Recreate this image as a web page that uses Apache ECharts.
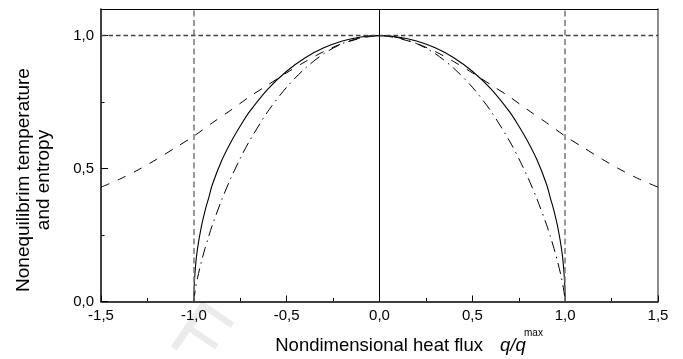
<!DOCTYPE html>
<html><head><meta charset="utf-8">
<script src="https://cdn.jsdelivr.net/npm/echarts@6/dist/echarts.min.js"></script>
<style>html,body{margin:0;padding:0;background:#fff}#c{width:683px;height:359px}</style>
</head><body><div id="c"></div>
<script>
// Dashed curve
const xDashed = [-1.5,-1.4,-1.3,-1.2,-1.1,-1.0,-0.9,-0.8,-0.7,-0.6,-0.5,-0.4,-0.3,-0.2,-0.1,0,
                 0.1,0.2,0.3,0.4,0.5,0.6,0.7,0.8,0.9,1.0,1.1,1.2,1.3,1.4,1.5];
const yDashed = [0.43,0.46,0.495,0.535,0.578,0.622,0.672,0.72,0.77,0.815,0.86,0.902,0.94,0.97,0.99,1.0,
                 0.99,0.97,0.94,0.902,0.86,0.815,0.77,0.72,0.672,0.622,0.578,0.535,0.495,0.46,0.43];
// Solid and dash-dot curves
const xSemi = [-1.0,-0.998,-0.99,-0.98,-0.96,-0.94,-0.92,-0.9,-0.85,-0.8,-0.75,-0.7,-0.6,-0.5,-0.4,-0.3,-0.2,-0.1,0,
               0.1,0.2,0.3,0.4,0.5,0.6,0.7,0.75,0.8,0.85,0.9,0.92,0.94,0.96,0.98,0.99,0.998,1.0];
const ySolid = [0,0.06,0.14,0.2,0.28,0.34,0.39,0.44,0.53,0.6,0.66,0.714,0.8,0.866,0.917,0.954,0.98,0.995,1.0,
                0.995,0.98,0.954,0.917,0.866,0.8,0.714,0.66,0.6,0.53,0.44,0.39,0.34,0.28,0.2,0.14,0.06,0];
const yDashDot = [0,0.016,0.053,0.089,0.148,0.199,0.245,0.288,0.382,0.465,0.538,0.604,0.716,0.806,0.877,0.932,0.97,0.992,1.0,
                  0.992,0.97,0.932,0.877,0.806,0.716,0.604,0.538,0.465,0.382,0.288,0.245,0.199,0.148,0.089,0.053,0.016,0];
const xTickValues = [-1.5,-1.0,-0.5,0,0.5,1.0,1.5];
const xTickLabels = ['-1,5','-1,0','-0,5','0,0','0,5','1,0','1,5'];
const yTickValues = [0,0.5,1.0];
const yTickLabels = ['0,0','0,5','1,0'];

const FONT = 'Liberation Sans, Arial, sans-serif';
function pick(vals, labels){
  return function(v){
    for (let i=0;i<vals.length;i++) if (Math.abs(v-vals[i])<1e-6) return labels[i];
    return '';
  };
}
const zip = (xs, ys) => xs.map((x,i)=>[x, ys[i]]);

const chart = echarts.init(document.getElementById('c'), null, {renderer:'canvas'});
chart.setOption({
  animation:false,
  backgroundColor:'#fff',
  grid:{left:101, right:25, top:9, bottom:57.5, show:false},
  xAxis:[{
    type:'value', min:-1.5, max:1.5, interval:0.5,
    axisLine:{show:true, onZero:false, lineStyle:{color:'#000', width:1.5}},
    axisTick:{show:true, inside:true, length:6, lineStyle:{color:'#000', width:1}},
    minorTick:{show:true, splitNumber:2, length:3.5, lineStyle:{color:'#000', width:1}},
    splitLine:{show:false},
    axisLabel:{formatter:pick(xTickValues,xTickLabels), margin:7, color:'#000', fontSize:15, fontFamily:FONT}
  },{
    type:'value', position:'top', min:-1.5, max:1.5,
    axisLine:{show:true, onZero:false, lineStyle:{color:'#000', width:1}},
    axisTick:{show:false}, axisLabel:{show:false}, splitLine:{show:false}
  }],
  yAxis:[{
    type:'value', min:0, max:1.1, interval:0.5,
    axisLine:{show:true, onZero:false, lineStyle:{color:'#000', width:1.5}},
    axisTick:{show:true, inside:true, length:7, lineStyle:{color:'#000', width:1}},
    splitLine:{show:false},
    axisLabel:{formatter:pick(yTickValues,yTickLabels), showMaxLabel:false, margin:7, color:'#000', fontSize:15, fontFamily:FONT}
  },{
    type:'value', position:'left', min:0, max:1.1, interval:0.25,
    axisLine:{show:false, onZero:false},
    axisTick:{show:true, inside:true, length:3.5, lineStyle:{color:'#000', width:1}},
    axisLabel:{show:false}, splitLine:{show:false}
  },{
    type:'value', position:'right', min:0, max:1.1,
    axisLine:{show:true, onZero:false, lineStyle:{color:'#666', width:1.5}},
    axisTick:{show:false}, axisLabel:{show:false}, splitLine:{show:false}
  }],
  series:[
    {
      type:'line', data:[], xAxisIndex:0, yAxisIndex:0, silent:true, z:1,
      markLine:{
        silent:true, symbol:['none','none'], label:{show:false}, animation:false,
        data:[
          {xAxis:-1, lineStyle:{color:'#777', width:1.5, type:[6,3.5]}},
          {xAxis:1, lineStyle:{color:'#777', width:1.5, type:[6,3.5]}},
          {yAxis:1, lineStyle:{color:'#444', width:1.3, type:[4.5,3]}},
          {xAxis:0, lineStyle:{color:'#000', width:1, type:'solid'}}
        ]
      }
    },
    {
      name:'dashed', type:'line', data:zip(xDashed,yDashed), smooth:0.3, showSymbol:false, z:3,
      lineStyle:{color:'#000', width:1, type:[9,9]}
    },
    {
      name:'solid', type:'line', data:zip(xSemi,ySolid), smooth:0.3, showSymbol:false, z:3,
      lineStyle:{color:'#000', width:1.1, type:'solid'}
    },
    {
      name:'dashdot', type:'line', data:zip(xSemi,yDashDot), smooth:0.3, showSymbol:false, z:3,
      lineStyle:{color:'#000', width:1, type:[11,5,1.5,5]}
    }
  ],
  graphic:[
    {type:'text', x:198, y:338, rotation:-0.6, z:-10, silent:true,
     style:{text:'F', fill:'#ebebeb', font:'80px '+FONT, textAlign:'center', textVerticalAlign:'middle'}},
    {type:'text', x:34, y:180, rotation:Math.PI/2, silent:true,
     style:{text:'Nonequilibrim temperature\nand entropy', fill:'#000', font:'19px '+FONT, lineHeight:20,
            textAlign:'center', textVerticalAlign:'middle'}},
    {type:'text', x:483, y:346, silent:true,
     style:{text:'Nondimensional heat flux', fill:'#000', font:'18.5px '+FONT, textAlign:'right', textVerticalAlign:'middle'}},
    {type:'text', x:500, y:346, silent:true,
     style:{text:'q/q', fill:'#000', font:'italic 18.5px '+FONT, textAlign:'left', textVerticalAlign:'middle'}},
    {type:'text', x:524, y:333, silent:true,
     style:{text:'max', fill:'#000', font:'10px '+FONT, textAlign:'left', textVerticalAlign:'middle'}}
  ]
});
</script>
</body></html>
